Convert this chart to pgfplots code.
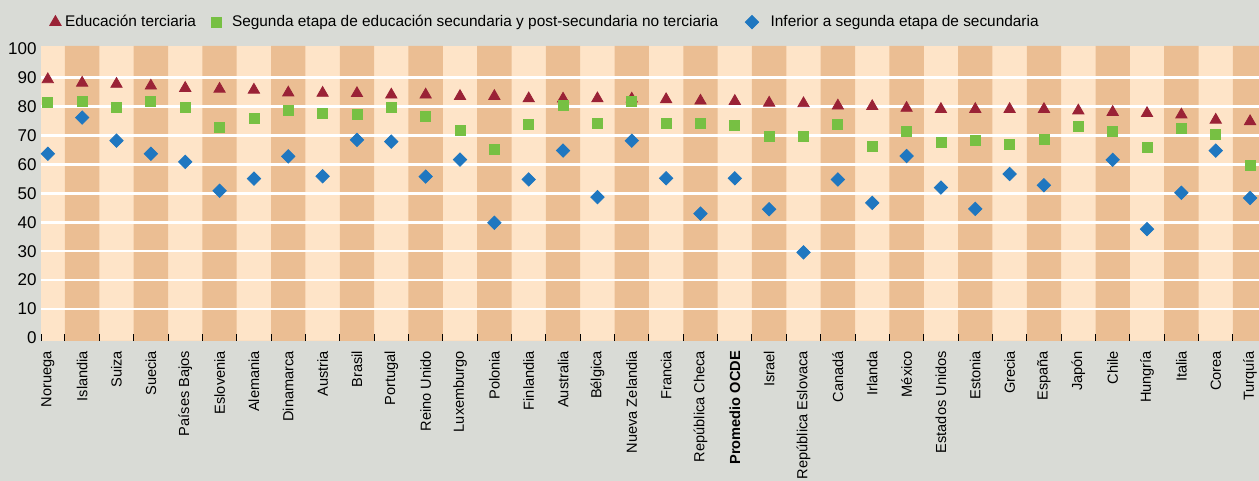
\documentclass[border=0pt]{standalone}
\usepackage{pgfplots}
\pgfplotsset{compat=1.18}
\usepackage{pgfplotstable}
\usepackage{fontspec}
\setmainfont{Liberation Sans}
\definecolor{bggrey}{RGB}{217,219,214}
\definecolor{lightband}{RGB}{254,228,200}
\definecolor{darkband}{RGB}{235,190,147}
\definecolor{tertc}{RGB}{154,34,54}
\definecolor{uppc}{RGB}{119,192,67}
\definecolor{lowc}{RGB}{31,119,192}

\pgfplotstableread{
i t u l
0 89.4 81.5 63.7
1 88.2 81.7 76.2
2 87.8 79.8 68.2
3 87.2 81.8 63.7
4 86.4 79.8 60.9
5 86.1 72.9 50.9
6 85.8 76.0 55.1
7 84.8 78.6 62.8
8 84.7 77.7 55.9
9 84.6 77.2 68.5
10 84.1 79.8 67.9
11 84.1 76.7 55.8
12 83.6 71.7 61.7
13 83.6 65.2 39.8
14 82.8 73.9 54.8
15 82.7 80.3 64.8
16 82.8 74.1 48.7
17 82.7 81.8 68.2
18 82.5 74.1 55.2
19 82.0 74.1 43.0
20 81.9 73.4 55.2
21 81.3 69.8 44.5
22 81.1 69.8 29.6
23 80.3 73.9 54.8
24 80.1 66.3 46.7
25 79.5 71.5 62.9
26 79.1 67.7 52.0
27 79.1 68.4 44.6
28 79.1 67.0 56.7
29 79.1 68.7 52.8
30 78.6 73.2 nan
31 78.1 71.5 61.6
32 77.7 66.0 37.6
33 77.2 72.5 50.2
34 75.4 70.4 64.8
35 74.9 59.8 48.4
}\datatable

\begin{document}
\begin{tikzpicture}
\path[use as bounding box] (0,0) rectangle (629.5pt,240.5pt);
\fill[bggrey] (0,0) rectangle (629.5pt,240.5pt);
% background bands
\begin{axis}[at={(20.5pt,70pt)}, anchor=south west, scale only axis,
  width=609pt, height=147.5pt,
  xmin=-0.198, xmax=35.26, ymin=-1.07, ymax=100.97,
  hide axis, clip=false]
\addplot[fill=lightband, draw=none] coordinates {(-0.198,-1.07) (35.26,-1.07) (35.26,100.97) (-0.198,100.97)};
\addplot[fill=darkband, draw=none] coordinates {
(0.5,-1.07) (0.5,100.97) (1.5,100.97) (1.5,-1.07)
(2.5,-1.07) (2.5,100.97) (3.5,100.97) (3.5,-1.07)
(4.5,-1.07) (4.5,100.97) (5.5,100.97) (5.5,-1.07)
(6.5,-1.07) (6.5,100.97) (7.5,100.97) (7.5,-1.07)
(8.5,-1.07) (8.5,100.97) (9.5,100.97) (9.5,-1.07)
(10.5,-1.07) (10.5,100.97) (11.5,100.97) (11.5,-1.07)
(12.5,-1.07) (12.5,100.97) (13.5,100.97) (13.5,-1.07)
(14.5,-1.07) (14.5,100.97) (15.5,100.97) (15.5,-1.07)
(16.5,-1.07) (16.5,100.97) (17.5,100.97) (17.5,-1.07)
(18.5,-1.07) (18.5,100.97) (19.5,100.97) (19.5,-1.07)
(20.5,-1.07) (20.5,100.97) (21.5,100.97) (21.5,-1.07)
(22.5,-1.07) (22.5,100.97) (23.5,100.97) (23.5,-1.07)
(24.5,-1.07) (24.5,100.97) (25.5,100.97) (25.5,-1.07)
(26.5,-1.07) (26.5,100.97) (27.5,100.97) (27.5,-1.07)
(28.5,-1.07) (28.5,100.97) (29.5,100.97) (29.5,-1.07)
(30.5,-1.07) (30.5,100.97) (31.5,100.97) (31.5,-1.07)
(32.5,-1.07) (32.5,100.97) (33.5,100.97) (33.5,-1.07)
(34.5,-1.07) (34.5,100.97) (35.26,100.97) (35.26,-1.07)
};
\end{axis}
% data axis
\begin{axis}[at={(20.5pt,70pt)}, anchor=south west, scale only axis,
  width=609pt, height=147.5pt,
  xmin=-0.198, xmax=35.26, ymin=-1.07, ymax=100.97,
  clip=false,
  axis line style={draw=none},
  /pgf/number format/assume math mode=true,
  xtick={0,...,35},
  xticklabels={Noruega,Islandia,Suiza,Suecia,Países Bajos,Eslovenia,Alemania,Dinamarca,Austria,Brasil,Portugal,Reino Unido,Luxemburgo,Polonia,Finlandia,Australia,Bélgica,Nueva Zelandia,Francia,República Checa,\textbf{Promedio OCDE},Israel,República Eslovaca,Canadá,Irlanda,México,Estados Unidos,Estonia,Grecia,España,Japón,Chile,Hungría,Italia,Corea,Turquía},
  minor xtick={-0.198,0.5,1.5,...,34.5},
  ytick={0,10,...,100},
  major tick length=0pt,
  minor tick length=3.5pt,
  tick align=inside,
  tick pos=left,
  minor tick style={black, line width=0.5pt},
  extra y ticks={10,20,...,90},
  extra y tick labels={},
  extra y tick style={grid=major},
  major grid style={white, line width=1.3pt},
  xticklabel style={rotate=90, anchor=east, inner sep=0pt, font=\fontsize{7.3}{8}\selectfont},
  xticklabel shift=4.8pt,
  yticklabel style={inner sep=0pt, font=\fontsize{8.5}{9}\selectfont},
  yticklabel shift=2pt,
  legend style={at={(axis description cs:0,1.081)}, anchor=west, xshift=4.2pt,
    draw=none, fill=none, inner sep=0pt, legend columns=3,
    font=\fontsize{7.7}{9}\selectfont,
    /tikz/every even column/.append style={column sep=5.5pt}},
]
\addplot[only marks, mark=triangle*, color=tertc, mark size=3.25pt] table[x=i, y=t]{\datatable};
\addlegendentry{Educación terciaria}
\addplot[only marks, mark=square*, color=uppc, mark size=2.5pt] table[x=i, y=u]{\datatable};
\addlegendentry{\hspace{3.5pt}Segunda etapa de educación secundaria y post-secundaria no terciaria\hspace{6pt}\mbox{}}
\addplot[only marks, mark=square*, mark options={rotate=45}, color=lowc, mark size=2.36pt] table[x=i, y=l]{\datatable};
\addlegendentry{\hspace{4pt}Inferior a segunda etapa de secundaria}
\end{axis}
\end{tikzpicture}
\end{document}
